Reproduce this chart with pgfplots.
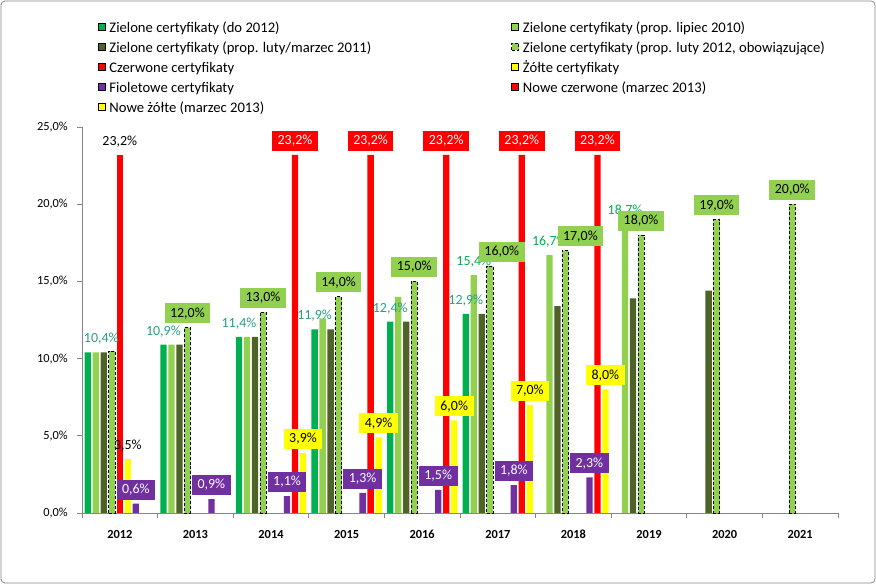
\documentclass[border=0pt]{standalone}
\usepackage{fontspec}
\setmainfont{Carlito}
\usepackage{pgfplots}
\pgfplotsset{compat=1.18}
\definecolor{zgreen}{RGB}{0,176,80}
\definecolor{lgreen}{RGB}{146,208,80}
\definecolor{dolive}{RGB}{79,98,40}
\definecolor{cred}{RGB}{255,0,0}
\definecolor{cyel}{RGB}{255,255,0}
\definecolor{cpur}{RGB}{112,48,160}
\definecolor{axgray}{RGB}{134,134,134}
\definecolor{labteal}{RGB}{38,160,128}
\newcommand\cf{\fontsize{12.4}{15}\selectfont}
\newcommand\df{\fontsize{14}{16.8}\selectfont}
\newcommand\lf{\fontsize{14.7}{17.6}\selectfont}
\newcommand\lstrut{\rule[-4bp]{0pt}{17bp}}
\pgfplotsset{
  /pgf/number format/assume math mode=true,
  numlab/.style={point meta=y,
    nodes near coords={\pgfmathprintnumber[fixed,fixed zerofill,precision=1,use comma]{\pgfplotspointmeta}\%}},
  lab/.style 2 args={numlab, every node near coord/.append style={font=\df, inner sep=0pt, anchor=base, yshift=9.5bp, xshift=#2, text=#1}},
  boxlab/.style n args={3}{numlab, every node near coord/.append style={font=\df, fill=#1, text=#2, inner xsep=5.5bp, inner ysep=0pt, minimum height=20bp, anchor=south, yshift=4bp, xshift=#3}},
  bars/.style={ybar, bar width=6.3bp, draw=none},
}
\begin{document}
\begin{tikzpicture}
\useasboundingbox (0,0) rectangle (876bp,584bp);
\fill[white] (0,0) rectangle (876bp,584bp);
\draw[axgray, line width=0.75bp, rounded corners=4bp] (1bp,1bp) rectangle (875bp,583bp);
\begin{axis}[
  at={(82bp,71bp)}, anchor=south west,
  scale only axis, width=756bp, height=386bp,
  xmin=-0.5, xmax=9.5, ymin=0, ymax=25,
  clip=false,
  axis x line*=bottom, axis y line*=left,
  axis line style={axgray, line width=0.75bp},
  tick style={axgray, line width=0.75bp},
  tick align=outside, major tick length=5bp,
  xtick={-0.5,0.5,1.5,2.5,3.5,4.5,5.5,6.5,7.5,8.5,9.5},
  xticklabels={2012,2013,2014,2015,2016,2017,2018,2019,2020,2021,{}},
  xticklabel style={font=\cf\bfseries, anchor=base, xshift=37.8bp, yshift=-20bp, inner sep=0pt},
  ytick={0,5,10,15,20,25},
  yticklabel={\pgfmathprintnumber[fixed,fixed zerofill,precision=1,use comma]{\tick}\%},
  yticklabel style={font=\cf, anchor=east, inner sep=0pt, xshift=-9bp},
  legend columns=2,
  legend cell align=left,
  legend image code/.code={\draw[#1] (0bp,-3.5bp) rectangle (7bp,3.5bp);},
  legend style={at={(axis description cs:0.02116,1.2785)}, anchor=north west,
    draw=none, fill=none, inner sep=0pt, outer sep=0pt, font=\lf,
    nodes={inner sep=0pt}, row sep=5.4bp,
    /tikz/every odd column/.append style={column sep=4bp}},
]
% legend entries
\addlegendimage{fill=zgreen, draw=none}
\addlegendentry{\makebox[402bp][l]{\lstrut Zielone certyfikaty (do 2012)}}
\addlegendimage{fill=lgreen, draw=none}
\addlegendentry{\lstrut Zielone certyfikaty (prop. lipiec 2010)}
\addlegendimage{fill=dolive, draw=none}
\addlegendentry{\makebox[402bp][l]{\lstrut Zielone certyfikaty (prop. luty/marzec 2011)}}
\addlegendimage{fill=lgreen, draw=black, densely dashed, line width=0.6bp}
\addlegendentry{\lstrut Zielone certyfikaty (prop. luty 2012, obowiązujące)}
\addlegendimage{fill=cred, draw=none}
\addlegendentry{\makebox[402bp][l]{\lstrut Czerwone certyfikaty}}
\addlegendimage{fill=cyel, draw=none}
\addlegendentry{\lstrut Żółte certyfikaty}
\addlegendimage{fill=cpur, draw=none}
\addlegendentry{\makebox[402bp][l]{\lstrut Fioletowe certyfikaty}}
\addlegendimage{fill=cred, draw=none}
\addlegendentry{\lstrut Nowe czerwone (marzec 2013)}
\addlegendimage{fill=cyel, draw=none}
\addlegendentry{\makebox[402bp][l]{\lstrut Nowe żółte (marzec 2013)}}

% Zielone certyfikaty (do 2012)
\addplot[bars, bar shift=-32bp, fill=zgreen, forget plot, lab={labteal}{-32bp},
  coordinate style/.condition={x==0}{xshift=13.5bp}]
  coordinates {(0,10.4)(1,10.9)(2,11.4)(3,11.9)(4,12.4)(5,12.9)};
% Zielone (prop. lipiec 2010)
\addplot[bars, bar shift=-24bp, fill=lgreen, forget plot]
  coordinates {(0,10.4)(1,10.9)(2,11.4)(3,12.6)(4,14.0)};
\addplot[bars, bar shift=-24bp, fill=lgreen, forget plot, lab={zgreen}{-24bp}]
  coordinates {(5,15.4)(6,16.7)(7,18.7)};
% Zielone (prop. luty/marzec 2011)
\addplot[bars, bar shift=-16bp, fill=dolive, forget plot]
  coordinates {(0,10.4)(1,10.9)(2,11.4)(3,11.9)(4,12.4)(5,12.9)(6,13.4)(7,13.9)(8,14.4)};
% Zielone (prop. luty 2012, obowiazujace)
\addplot[bars, bar shift=-8bp, fill=lgreen, draw=black, densely dashed, line width=0.7bp, forget plot]
  coordinates {(0,10.5)};
\addplot[bars, bar shift=-8bp, fill=lgreen, draw=black, densely dashed, line width=0.7bp, forget plot,
  boxlab={lgreen}{black}{-8bp}, every node near coord/.append style={solid, draw=none},
  coordinate style/.condition={x==5}{xshift=12bp},
  coordinate style/.condition={x==6}{xshift=15bp}]
  coordinates {(1,12.0)(2,13.0)(3,14.0)(4,15.0)(5,16.0)(6,17.0)(7,18.0)(8,19.0)(9,20.0)};
% Zolte certyfikaty
\addplot[bars, bar shift=8bp, fill=cyel, forget plot, lab={black}{8bp}]
  coordinates {(0,3.5)};
% Czerwone certyfikaty
\addplot[bars, bar shift=0bp, fill=cred, forget plot, lab={black}{0bp}]
  coordinates {(0,23.2)};
% Fioletowe
\addplot[bars, bar shift=16bp, fill=cpur, forget plot, boxlab={cpur}{white}{16bp}]
  coordinates {(0,0.6)(1,0.9)(2,1.1)(3,1.3)(4,1.5)(5,1.8)(6,2.3)};
% Nowe czerwone
\addplot[bars, bar shift=24bp, fill=cred, forget plot, boxlab={cred}{white}{24bp}]
  coordinates {(2,23.2)(3,23.2)(4,23.2)(5,23.2)(6,23.2)};
% Nowe zolte
\addplot[bars, bar shift=32bp, fill=cyel, forget plot, boxlab={cyel}{black}{32bp}]
  coordinates {(2,3.9)(3,4.9)(4,6.0)(5,7.0)(6,8.0)};
\end{axis}
\end{tikzpicture}
\end{document}
